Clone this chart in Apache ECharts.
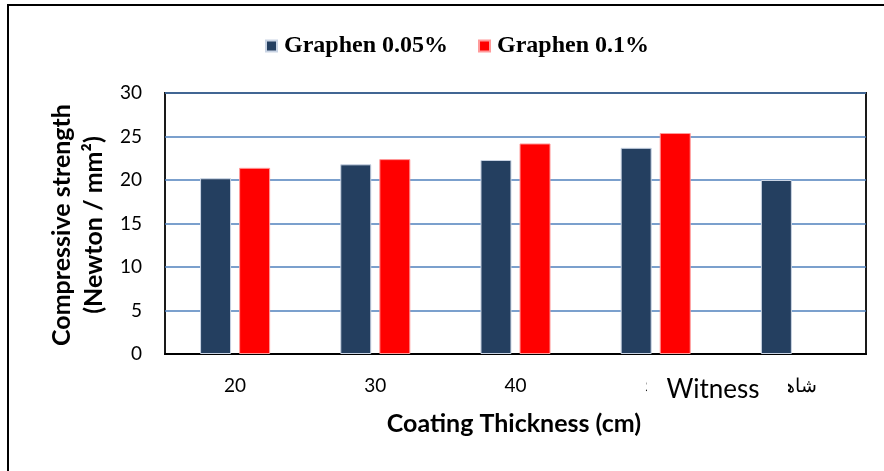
<!DOCTYPE html>
<html>
<head>
<meta charset="utf-8">
<script src="https://cdn.jsdelivr.net/npm/echarts@6/dist/echarts.min.js"></script>
<style>
  html, body { margin: 0; padding: 0; background: #fff; }
  #chart { width: 884px; height: 471px; }
</style>
</head>
<body>
<div id="chart"></div>
<script>
// Coating thickness groups (last group is the control sample)
const categories = ['20', '30', '40', '50', 'شاهد'];
// Compressive strength, N/mm²
const graphene005 = [20.2, 21.8, 22.3, 23.7, 20.0];
const graphene01 = [21.4, 22.4, 24.2, 25.4, null];
const seriesNames = ['Graphen 0.05%', 'Graphen 0.1%'];
const yTicks = [0, 5, 10, 15, 20, 25, 30];

const chart = echarts.init(document.getElementById('chart'), null, { renderer: 'canvas' });

const sansFont = 'Lato, "Open Sans", sans-serif';

chart.setOption({
  animation: false,
  backgroundColor: '#ffffff',
  legend: {
    data: seriesNames,
    left: 260,
    top: 29,
    icon: 'rect',
    itemWidth: 11,
    itemHeight: 11,
    itemGap: 30,
    textStyle: {
      fontFamily: '"Liberation Serif", "Times New Roman", serif',
      fontWeight: 'bold',
      fontSize: 24,
      color: '#000',
      padding: [0, 0, 0, 2]
    }
  },
  grid: {
    left: 165,
    right: 18,
    top: 93,
    bottom: 117,
    show: true,
    borderColor: '#1a1a1a',
    borderWidth: 2,
    containLabel: false
  },
  xAxis: {
    type: 'category',
    data: categories,
    axisLine: { lineStyle: { color: '#000', width: 2 } },
    axisTick: { show: false },
    axisLabel: {
      margin: 22,
      fontSize: 19,
      color: '#000',
      fontFamily: sansFont
    }
  },
  yAxis: {
    type: 'value',
    min: yTicks[0],
    max: yTicks[yTicks.length - 1],
    interval: yTicks[1] - yTicks[0],
    axisLine: { show: false },
    axisTick: { show: false },
    axisLabel: {
      margin: 23,
      fontSize: 19,
      color: '#000',
      fontFamily: sansFont
    },
    splitLine: { lineStyle: { color: '#4f81bd', width: 1.5 } }
  },
  series: [
    {
      name: seriesNames[0],
      type: 'bar',
      data: graphene005,
      barWidth: 31,
      barGap: '26%',
      itemStyle: { color: '#243f60', borderColor: '#c9d4e4', borderWidth: 1 }
    },
    {
      name: seriesNames[1],
      type: 'bar',
      data: graphene01,
      barWidth: 31,
      itemStyle: { color: '#ff0000', borderColor: '#ff9a9a', borderWidth: 1 }
    }
  ],
  graphic: [
    // outer frame
    {
      type: 'rect',
      z: 100,
      shape: { x: 8, y: 5, width: 900, height: 500 },
      style: { fill: 'none', stroke: '#000', lineWidth: 2 }
    },
    // y axis title (two lines)
    {
      type: 'text',
      z: 100,
      x: 62,
      y: 225,
      rotation: Math.PI / 2,
      style: {
        text: 'Compressive strength',
        fontFamily: sansFont,
        fontWeight: 'bold',
        fontSize: 25,
        fill: '#000',
        align: 'center',
        verticalAlign: 'middle'
      }
    },
    {
      type: 'text',
      z: 100,
      x: 94,
      y: 225,
      rotation: Math.PI / 2,
      style: {
        text: '(Newton / mm²)',
        fontFamily: sansFont,
        fontWeight: 'bold',
        fontSize: 25,
        fill: '#000',
        align: 'center',
        verticalAlign: 'middle'
      }
    },
    // x axis title
    {
      type: 'text',
      z: 100,
      x: 514,
      y: 424,
      style: {
        text: 'Coating Thickness (cm)',
        fontFamily: sansFont,
        fontWeight: 'bold',
        fontSize: 25,
        fill: '#000',
        align: 'center',
        verticalAlign: 'middle'
      }
    },
    // text box laid over the lower axis labels
    {
      type: 'rect',
      z: 100,
      shape: { x: 647, y: 366, width: 141, height: 36 },
      style: { fill: '#ffffff', stroke: 'none' }
    },
    {
      type: 'text',
      z: 101,
      x: 713,
      y: 390,
      style: {
        text: 'Witness',
        fontFamily: sansFont,
        fontSize: 26,
        fill: '#000',
        align: 'center',
        verticalAlign: 'middle'
      }
    }
  ]
});
</script>
</body>
</html>
